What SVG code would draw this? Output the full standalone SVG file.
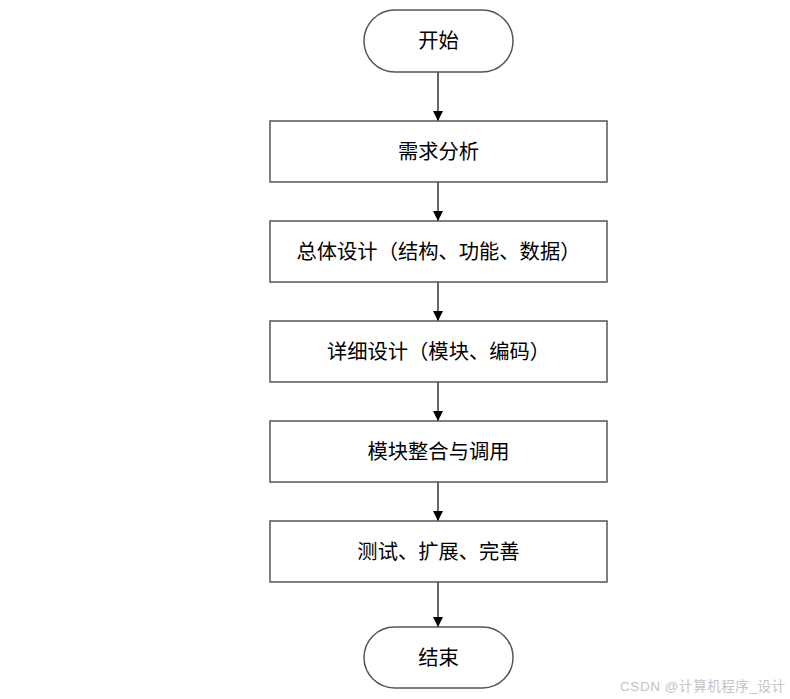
<svg xmlns="http://www.w3.org/2000/svg" width="790" height="699" viewBox="0 0 790 699">
<defs>
<marker id="ah" markerWidth="10" markerHeight="10" refX="10" refY="5" orient="auto" markerUnits="userSpaceOnUse">
<path d="M0,0 L10,5 L0,10 Z" fill="#000"/>
</marker>
<style>
.box{fill:#fff;stroke:#555;stroke-width:1.5}
.t{font-family:"Liberation Sans","Noto Sans CJK SC",sans-serif;font-size:20.3px;fill:#000;text-anchor:middle;dominant-baseline:central}
.c{stroke:#000;stroke-width:1.2;fill:none;marker-end:url(#ah)}
.wm{font-family:"Liberation Sans","Noto Sans CJK SC",sans-serif;font-size:13.5px;fill:#c4c4c4}
</style>
</defs>
<rect width="790" height="699" fill="#fff"/>
<g id="connectors">
<line class="c" x1="438" y1="72" x2="438" y2="121"/>
<line class="c" x1="438" y1="182" x2="438" y2="221"/>
<line class="c" x1="438" y1="282" x2="438" y2="321"/>
<line class="c" x1="438" y1="382" x2="438" y2="421"/>
<line class="c" x1="438" y1="482" x2="438" y2="521"/>
<line class="c" x1="438" y1="582" x2="438" y2="627"/>
</g>
<g id="start"><rect class="box" x="364" y="10" width="149" height="62" rx="31" ry="31"/><text class="t" x="438.5" y="41">开始</text></g>
<g id="n1"><rect class="box" x="270" y="121" width="337" height="61"/><text class="t" x="438.5" y="151.5">需求分析</text></g>
<g id="n2"><rect class="box" x="270" y="221" width="337" height="61"/><text class="t" x="438.5" y="251.5">总体设计（结构、功能、数据）</text></g>
<g id="n3"><rect class="box" x="270" y="321" width="337" height="61"/><text class="t" x="438.5" y="351.5">详细设计（模块、编码）</text></g>
<g id="n4"><rect class="box" x="270" y="421" width="337" height="61"/><text class="t" x="438.5" y="451.5">模块整合与调用</text></g>
<g id="n5"><rect class="box" x="270" y="521" width="337" height="61"/><text class="t" x="438.5" y="551.5">测试、扩展、完善</text></g>
<g id="end"><rect class="box" x="364" y="627" width="149" height="61" rx="30.5" ry="30.5"/><text class="t" x="438.5" y="657.5">结束</text></g>
<text class="wm" x="620" y="691" textLength="165" lengthAdjust="spacing">CSDN @计算机程序_设计</text>
</svg>
